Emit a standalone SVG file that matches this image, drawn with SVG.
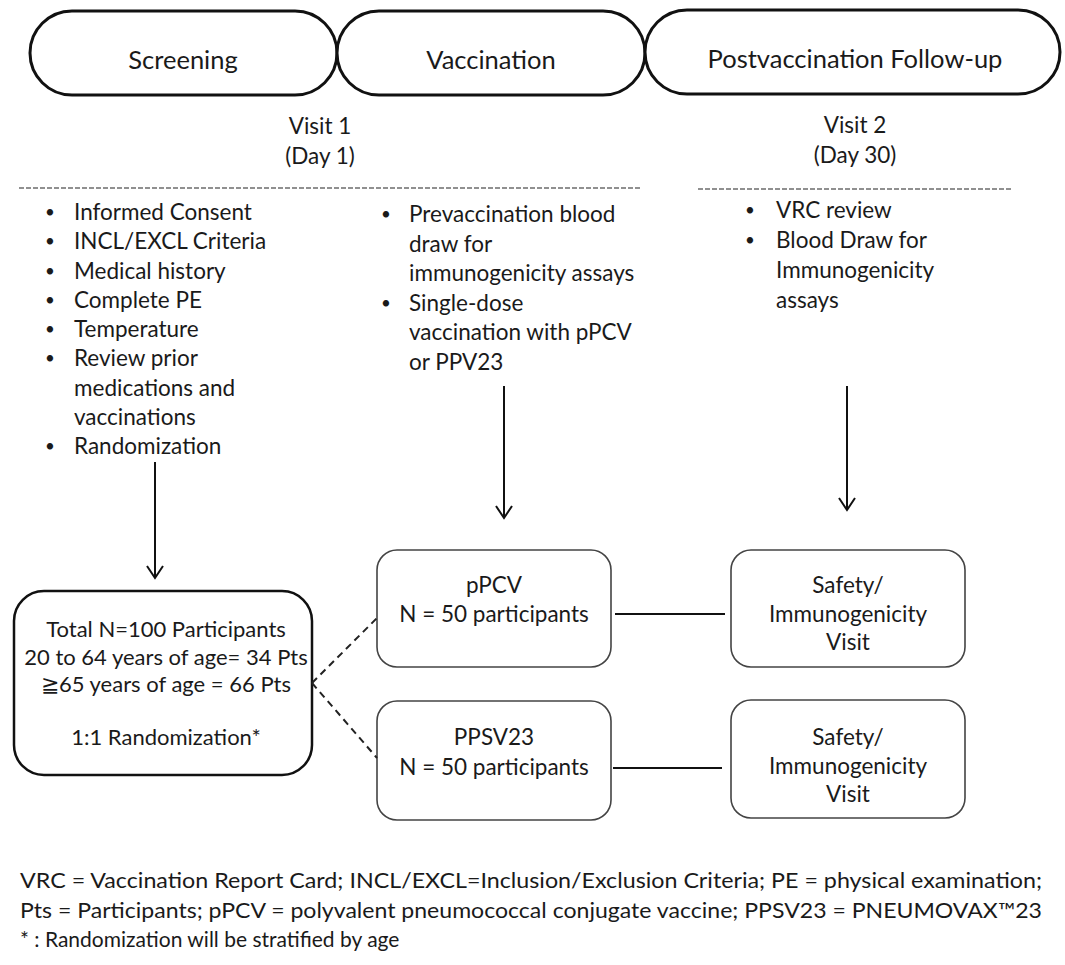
<svg xmlns="http://www.w3.org/2000/svg" width="1065" height="965" viewBox="0 0 1065 965">
<style>
text{font-family:Lato,"Liberation Sans",sans-serif;fill:#1a1a1a}
.t{font-size:22.5px}
.c{text-anchor:middle}
.b{font-size:17px}
.pill{fill:#fff;stroke:#111;stroke-width:3}
.box{fill:#fff;stroke:#444;stroke-width:1.6}
.sep{stroke:#222;stroke-width:1.2;stroke-dasharray:5 2;fill:none}
.ln{stroke:#111;stroke-width:2;fill:none}
.dash{stroke:#222;stroke-width:2;stroke-dasharray:7 5;fill:none}
.foot{font-size:21px}
</style>
<defs>
<marker id="ah" viewBox="0 0 20 20" refX="18" refY="10" markerWidth="20" markerHeight="20" markerUnits="userSpaceOnUse" orient="auto">
<path d="M6,2 L18,10 L6,18" fill="none" stroke="#111" stroke-width="2"/>
</marker>
</defs>
<rect width="1065" height="965" fill="#fff"/>

<g id="screening">
<rect class="pill" x="30" y="11" width="307" height="84" rx="42"/>
<text class="c" x="183" y="69" font-size="25.5">Screening</text>
</g>
<g id="vaccination">
<rect class="pill" x="337" y="11" width="308" height="84" rx="42"/>
<text class="c" x="491" y="69" font-size="25.5">Vaccination</text>
</g>
<g id="followup">
<rect class="pill" x="645" y="10" width="415" height="84" rx="42"/>
<text class="c" x="855" y="68" font-size="25.5">Postvaccination Follow-up</text>
</g>

<g id="visit1">
<text class="t c" x="320" y="134">Visit 1</text>
<text class="t c" x="320" y="164">(Day 1)</text>
<line class="sep" x1="19" y1="188" x2="642" y2="188"/>
</g>
<g id="visit2">
<text class="t c" x="855" y="133">Visit 2</text>
<text class="t c" x="855" y="163">(Day 30)</text>
<line class="sep" x1="698" y1="189" x2="1012" y2="189"/>
</g>

<g id="screening-list" class="t">
<text class="b" x="45" y="218">•</text><text x="74" y="220">Informed Consent</text>
<text class="b" x="45" y="247">•</text><text x="74" y="249">INCL/EXCL Criteria</text>
<text class="b" x="45" y="277">•</text><text x="74" y="279">Medical history</text>
<text class="b" x="45" y="306">•</text><text x="74" y="308">Complete PE</text>
<text class="b" x="45" y="335">•</text><text x="74" y="337">Temperature</text>
<text class="b" x="45" y="364">•</text><text x="74" y="366">Review prior</text>
<text x="74" y="396">medications and</text>
<text x="74" y="425">vaccinations</text>
<text class="b" x="45" y="452">•</text><text x="74" y="454">Randomization</text>
</g>

<g id="vaccination-list" class="t">
<text class="b" x="381" y="220">•</text><text x="409" y="222">Prevaccination blood</text>
<text x="409" y="252">draw for</text>
<text x="409" y="281">immunogenicity assays</text>
<text class="b" x="381" y="309">•</text><text x="409" y="311">Single-dose</text>
<text x="409" y="340">vaccination with pPCV</text>
<text x="409" y="370">or PPV23</text>
</g>

<g id="followup-list" class="t">
<text class="b" x="745" y="216">•</text><text x="776" y="218">VRC review</text>
<text class="b" x="745" y="246">•</text><text x="776" y="248">Blood Draw for</text>
<text x="776" y="278">Immunogenicity</text>
<text x="776" y="308">assays</text>
</g>

<g id="total">
<rect x="14" y="591" width="298" height="184" rx="30" fill="#fff" stroke="#111" stroke-width="2.5"/>
<g class="c" font-size="22">
<text x="166" y="637">Total N=100 Participants</text>
<text x="166" y="665">20 to 64 years of age= 34 Pts</text>
<text x="166" y="692">≧65 years of age = 66 Pts</text>
<text x="166" y="745">1:1 Randomization*</text>
</g>
</g>

<g id="ppcv">
<rect class="box" x="377" y="550" width="234" height="117" rx="20"/>
<g class="t c"><text x="494" y="593">pPCV</text><text x="494" y="622">N = 50 participants</text></g>
</g>
<g id="ppsv23">
<rect class="box" x="377" y="701" width="234" height="119" rx="20"/>
<g class="t c"><text x="494" y="745">PPSV23</text><text x="494" y="775">N = 50 participants</text></g>
</g>
<g id="safety1">
<rect class="box" x="731" y="550" width="234" height="117" rx="20"/>
<g class="t c"><text x="848" y="593">Safety/</text><text x="848" y="622">Immunogenicity</text><text x="848" y="650">Visit</text></g>
</g>
<g id="safety2">
<rect class="box" x="731" y="700" width="234" height="118" rx="20"/>
<g class="t c"><text x="848" y="745">Safety/</text><text x="848" y="774">Immunogenicity</text><text x="848" y="802">Visit</text></g>
</g>

<g id="connectors">
<line class="ln" x1="155" y1="462" x2="155" y2="578" marker-end="url(#ah)"/>
<line class="ln" x1="504" y1="386" x2="504" y2="518" marker-end="url(#ah)"/>
<line class="ln" x1="847" y1="386" x2="847" y2="510" marker-end="url(#ah)"/>
<line class="dash" x1="312" y1="683" x2="377" y2="618"/>
<line class="dash" x1="312" y1="683" x2="377" y2="758"/>
<line class="ln" x1="615" y1="614" x2="725" y2="614"/>
<line class="ln" x1="613" y1="768" x2="722" y2="768"/>
</g>

<g id="footer" class="foot">
<text x="20" y="888" textLength="1022" lengthAdjust="spacingAndGlyphs">VRC = Vaccination Report Card; INCL/EXCL=Inclusion/Exclusion Criteria; PE = physical examination;</text>
<text x="20" y="918" textLength="1022" lengthAdjust="spacingAndGlyphs">Pts = Participants; pPCV = polyvalent pneumococcal conjugate vaccine; PPSV23 = PNEUMOVAX™23</text>
<text x="20" y="947">* : Randomization will be stratified by age</text>
</g>
</svg>
